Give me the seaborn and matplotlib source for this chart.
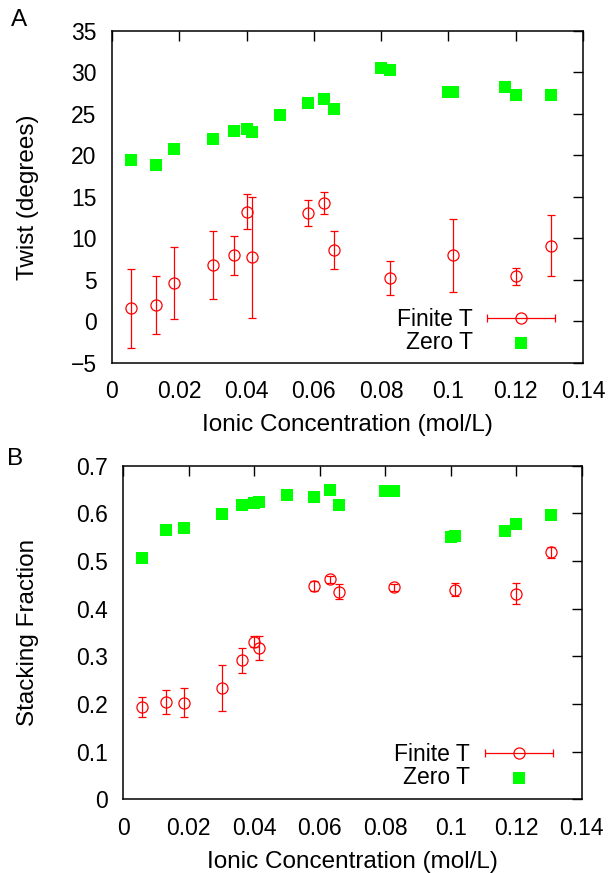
import numpy as np
import matplotlib
matplotlib.use("Agg")
import matplotlib.pyplot as plt
import seaborn as sns
from matplotlib.ticker import MultipleLocator, FuncFormatter
from matplotlib.legend_handler import HandlerErrorbar

# Ionic concentration (mol/L) of every zero-temperature run
conc_zero = [0.0057, 0.013, 0.0185, 0.030, 0.0364, 0.040, 0.0415, 0.050, 0.0583,
             0.063, 0.066, 0.080, 0.0827, 0.100, 0.1013, 0.1167, 0.120, 0.1305]
# concentrations of the finite temperature runs
conc_finite = [0.0057, 0.013, 0.0185, 0.030, 0.0364, 0.040, 0.0415, 0.0583,
               0.063, 0.066, 0.0827, 0.1013, 0.120, 0.1305]

# Panel A: twist (degrees)
twist_zero = [19.5, 18.8, 20.75, 21.95, 23.0, 23.25, 22.8, 24.85, 26.3,
              26.75, 25.55, 30.6, 30.3, 27.7, 27.7, 28.2, 27.25, 27.25]
twist_finite = [1.6, 1.95, 4.65, 6.8, 8.0, 13.25, 7.75, 13.05, 14.25, 8.6, 5.2, 8.0, 5.45, 9.15]
twist_finite_err = [4.75, 3.5, 4.35, 4.05, 2.35, 2.15, 7.3, 1.6, 1.35, 2.3, 2.05, 4.4, 1.05, 3.7]

# Panel B: stacking fraction
stack_zero = [0.506, 0.565, 0.569, 0.598, 0.617, 0.621, 0.623, 0.638, 0.634,
              0.648, 0.617, 0.646, 0.646, 0.550, 0.552, 0.562, 0.577, 0.596]
stack_finite = [0.194, 0.204, 0.203, 0.234, 0.292, 0.331, 0.318, 0.448, 0.462,
                0.436, 0.445, 0.440, 0.431, 0.518]
stack_finite_err = [0.020, 0.025, 0.030, 0.048, 0.026, 0.012, 0.025, 0.010, 0.007,
                    0.016, 0.007, 0.014, 0.022, 0.011]

sns.set_theme(style="white")
plt.rcParams['font.family'] = ['Liberation Sans', 'DejaVu Sans']
plt.rcParams.update({
    'axes.edgecolor': 'black',
    'axes.linewidth': 1.1,
    'xtick.direction': 'in',
    'ytick.direction': 'in',
    'xtick.major.size': 7,
    'ytick.major.size': 7,
    'xtick.major.width': 1.0,
    'ytick.major.width': 1.0,
    'xtick.color': 'black',
    'ytick.color': 'black',
    'text.color': 'black',
    'axes.labelcolor': 'black',
})

RED = '#ff0000'
GREEN = '#00ff00'
FS = 16.5     # ticks and legend
LFS = 17.5    # axis labels
HL = 2.95
SQ = 78       # square marker area

fig = plt.figure(figsize=(6.14, 8.73), dpi=100)
axA = fig.add_axes([0.1824, 0.5842, 0.7671, 0.3803])
axB = fig.add_axes([0.2008, 0.0842, 0.7466, 0.3824])

fmt = FuncFormatter(lambda v, p: ('%g' % round(v, 6)).replace('-', '\u2212'))


def panel(ax, y_zero, y_fin, y_err, ylim, ystep, ylabel, ylab_x, leg_anchor):
    sns.scatterplot(x=conc_zero, y=y_zero, marker='s', s=SQ, color=GREEN,
                    linewidth=0, ax=ax, zorder=3)
    ax.errorbar(conc_finite, y_fin, yerr=y_err, fmt='o', ms=8, mfc='none',
                mec=RED, mew=0.9, ecolor=RED, elinewidth=0.9, capsize=3.2,
                capthick=0.9, zorder=4)
    # legend proxies
    h_fin = ax.errorbar([np.nan], [np.nan], xerr=[0.0], fmt='o', ms=8, mfc='none',
                        mec=RED, mew=0.9, ecolor=RED, elinewidth=0.9, capsize=3.2,
                        capthick=0.9)
    h_zero = ax.scatter([np.nan], [np.nan], marker='s', s=SQ, color=GREEN, linewidth=0)
    ax.legend([h_fin, h_zero], ['Finite T', 'Zero T'], loc='lower right',
              bbox_to_anchor=leg_anchor, borderaxespad=0, borderpad=0,
              frameon=False, markerfirst=False, handlelength=HL,
              handletextpad=0.65, labelspacing=0.0, fontsize=FS,
              handler_map={type(h_fin): HandlerErrorbar(xerr_size=HL / 2)})

    ax.set_xlim(0, 0.14)
    ax.set_ylim(*ylim)
    ax.xaxis.set_major_locator(MultipleLocator(0.02))
    ax.yaxis.set_major_locator(MultipleLocator(ystep))
    ax.xaxis.set_major_formatter(fmt)
    ax.yaxis.set_major_formatter(fmt)
    ax.tick_params(axis='both', which='major', top=True, right=True, labelsize=FS)
    ax.tick_params(axis='x', pad=12.5)
    ax.tick_params(axis='y', pad=11)
    ax.set_xlabel('Ionic Concentration (mol/L)', fontsize=LFS)
    ax.set_ylabel(ylabel, fontsize=LFS)
    ax.xaxis.set_label_coords(0.5, -0.153)
    ax.yaxis.set_label_coords(ylab_x, 0.5)
    for s in ax.spines.values():
        s.set_visible(True)
        s.set_color('black')


panel(axA, twist_zero, twist_finite, twist_finite_err, (-5, 35), 5,
      'Twist (degrees)', -0.155, (0.9406, 0.027))
panel(axB, stack_zero, stack_finite, stack_finite_err, (0, 0.7), 0.1,
      'Stacking Fraction', -0.184, (0.9367, 0.03))

fig.text(19 / 614, 1 - 20.5 / 873, 'A', fontsize=17.5, ha='center', va='center')
fig.text(15 / 614, 1 - 459 / 873, 'B', fontsize=17.5, ha='center', va='center')

fig.savefig('out.png', dpi=100)
